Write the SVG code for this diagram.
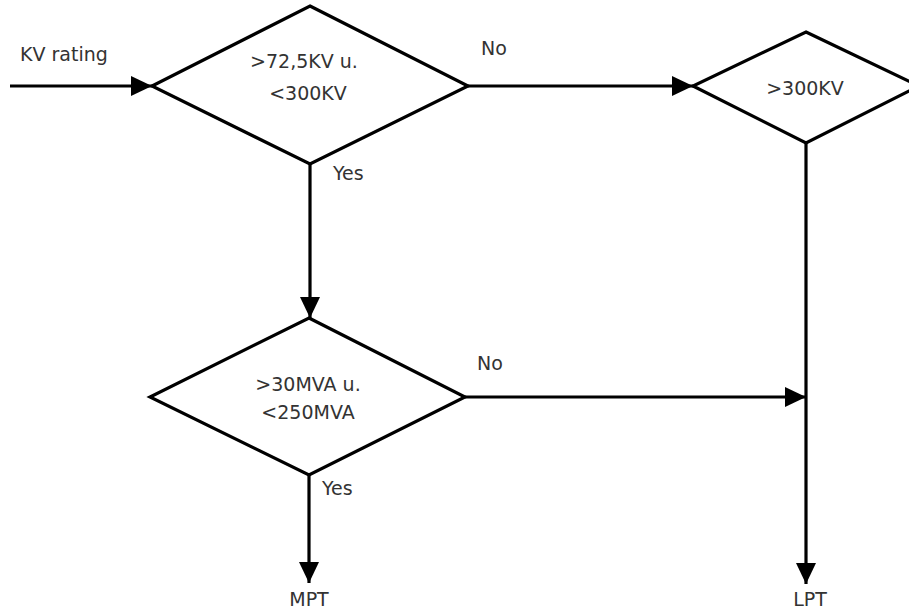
<svg xmlns="http://www.w3.org/2000/svg" width="909" height="612" viewBox="0 0 909 612">
<defs>
<marker id="arr" viewBox="0 0 21 20" refX="21" refY="10" markerWidth="21" markerHeight="20" markerUnits="userSpaceOnUse" orient="auto">
<path d="M0,0 L21,10 L0,20 Z" fill="#000"/>
</marker>
<style>
.shape{fill:#fff;stroke:#000;stroke-width:3.2;stroke-linejoin:miter}
.edge{fill:none;stroke:#000;stroke-width:3.2}
text{font-family:"DejaVu Sans",Verdana,sans-serif;font-size:19px;fill:#333}
.c{text-anchor:middle}
</style>
</defs>
<rect width="909" height="612" fill="#fff"/>
<g id="connectors">
<line class="edge" x1="10" y1="86" x2="152" y2="86" marker-end="url(#arr)"/>
<line class="edge" x1="468" y1="86" x2="693" y2="86" marker-end="url(#arr)"/>
<line class="edge" x1="310" y1="164" x2="310" y2="318" marker-end="url(#arr)"/>
<line class="edge" x1="806" y1="143" x2="806" y2="584" marker-end="url(#arr)"/>
<line class="edge" x1="465" y1="397" x2="806" y2="397" marker-end="url(#arr)"/>
<line class="edge" x1="309" y1="475" x2="309" y2="583" marker-end="url(#arr)"/>
<text x="481" y="55">No</text>
<text x="333" y="180">Yes</text>
<text x="477" y="370">No</text>
<text x="322" y="495">Yes</text>
</g>
<g id="input">
<text x="20" y="61">KV rating</text>
</g>
<g id="d1">
<polygon class="shape" points="310,6 468,86 310,164 152,86"/>
<text class="c" x="304" y="68">&gt;72,5KV u.</text>
<text class="c" x="308" y="100">&lt;300KV</text>
</g>
<g id="d2">
<polygon class="shape" points="806,32 919,86 806,143 693,86"/>
<text class="c" x="805" y="95">&gt;300KV</text>
</g>
<g id="d3">
<polygon class="shape" points="309,318 465,397 309,475 150,397"/>
<text class="c" x="308" y="391">&gt;30MVA u.</text>
<text class="c" x="308" y="419">&lt;250MVA</text>
</g>
<g id="mpt">
<text class="c" x="309" y="606">MPT</text>
</g>
<g id="lpt">
<text class="c" x="810" y="606">LPT</text>
</g>
</svg>
